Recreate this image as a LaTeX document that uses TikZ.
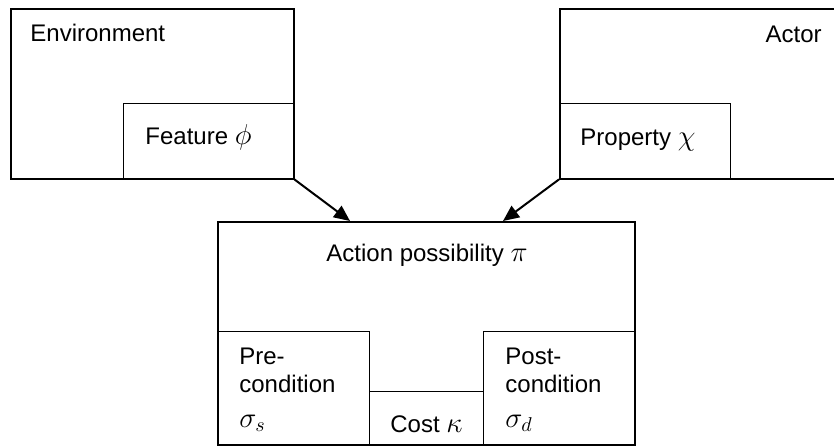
\documentclass[tikz,border=0pt]{standalone}
\usepackage{fontspec}
\setmainfont{Liberation Sans}
\usetikzlibrary{arrows.meta}
\newcommand{\grk}[1]{{\fontsize{14}{16}\selectfont$#1$}}
\begin{document}
\begin{tikzpicture}[x=0.5pt, y=-0.5pt, font=\fontsize{12}{14}\selectfont]
    \useasboundingbox (0,0) rectangle (834,445);

    \begin{scope}[every node/.style={rectangle, draw, line width=1pt, anchor=north west, inner sep=0pt, minimum height=85pt}]
        \node[minimum width=141.5pt] (env) at (10,8) {};
        \node[minimum width=146pt] (actor) at (559,8) {};
        \node[minimum width=208.5pt, minimum height=111.5pt] (action) at (217,221) {};
    \end{scope}

    \begin{scope}[every node/.style={rectangle, draw, line width=0.7pt, anchor=north west, inner sep=0pt}]
        \node[minimum width=85pt, minimum height=37.5pt] (feature) at (123,103) {};
        \node[minimum width=85.5pt, minimum height=37.5pt] (property) at (559,103) {};
        \node[minimum width=76pt, minimum height=56.5pt] (pre) at (217,331) {};
        \node[minimum width=57pt, minimum height=26.5pt] (cost) at (369,391) {};
        \node[minimum width=75.5pt, minimum height=56.5pt] (post) at (483,331) {};
    \end{scope}

    \begin{scope}[every node/.style={inner sep=0pt, anchor=base west}]
        \node (envtext) at (30,41) {Environment};
        \node[anchor=base east] (actortext) at (822,42) {Actor};
        \node (featuretext) at (145,144) {Feature \grk{\phi}};
        \node (propertytext) at (580,145) {Property \grk{\chi}};
        \node[anchor=base] (actiontext) at (427,261) {Action possibility \grk{\pi}};
        \node (pretext1) at (239,364) {Pre-};
        \node (pretext2) at (239,392) {condition};
        \node (pretext3) at (239,427) {\grk{\sigma_s}};
        \node (costtext) at (390,432) {Cost \grk{\kappa}};
        \node (posttext1) at (505,364) {Post-};
        \node (posttext2) at (505,392) {condition};
        \node (posttext3) at (505,427) {\grk{\sigma_d}};
    \end{scope}

    \coordinate (inleft) at (350,221);
    \coordinate (inright) at (503,221);

    \begin{scope}[every edge/.style={draw, line width=1pt}]
        \path [-{Triangle[length=8pt, width=7pt]}] (feature.south east) edge (inleft);
        \path [-{Triangle[length=8pt, width=7pt]}] (property.south west) edge (inright);
    \end{scope}
\end{tikzpicture}
\end{document}
